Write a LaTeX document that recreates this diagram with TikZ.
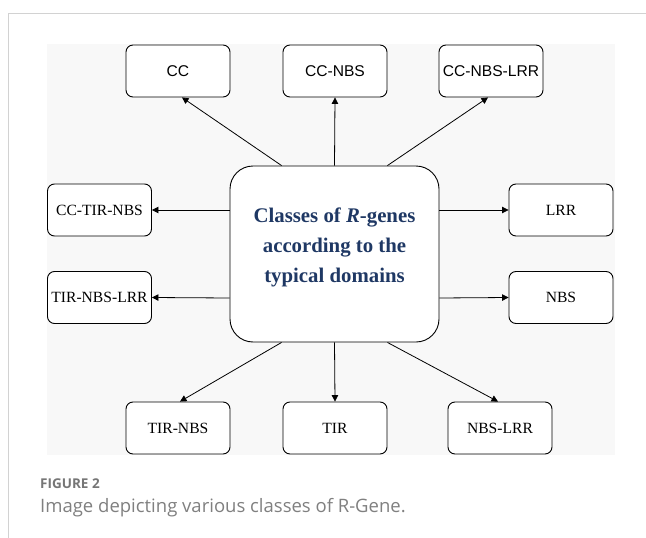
\documentclass[tikz,border=0pt]{standalone}
\usepackage{fontspec}
\setmainfont{Liberation Serif}
\newfontfamily\arialfont{Liberation Sans}
\newfontfamily\capfont{Open Sans}
\usetikzlibrary{arrows.meta,calc}
\definecolor{panelgray}{RGB}{248,248,248}
\definecolor{rulegray}{RGB}{210,210,210}
\definecolor{navy}{RGB}{31,56,100}
\definecolor{capgray}{RGB}{118,118,118}
\definecolor{capgraylight}{RGB}{128,128,128}
\tikzset{
  domainbox/.style={draw=black,line width=0.9pt,fill=white,rounded corners=7pt,
    minimum width=104pt,minimum height=52pt,inner sep=0pt,
    font=\fontsize{15.6}{18}\selectfont},
  sansbox/.style={domainbox,font=\arialfont\fontsize{15.6}{18}\selectfont},
  centerbox/.style={draw=black,line width=0.9pt,fill=white,rounded corners=23pt,
    minimum width=209pt,minimum height=176pt,inner sep=0pt},
  link/.style={draw=black,line width=0.8pt,-{Triangle[length=6.5pt,width=6.5pt]}}
}
\begin{document}
\begin{tikzpicture}[x=1pt,y=-1pt]
\useasboundingbox (0,0) rectangle (646,538);
\fill[white] (0,0) rectangle (646,538);
% frame lines
\draw[rulegray,line width=1pt] (8,13) -- (646,13);
\draw[rulegray,line width=1pt] (8,13) -- (8,538);
% panel
\fill[panelgray] (47,44) rectangle (615,455);
% center
\node[centerbox,label={[yshift=7pt,align=center,text=navy,
  font=\bfseries\fontsize{20.8}{30}\selectfont]center:Classes of \textit{R}-genes\\according to the\\typical domains}] (c) at (334.5,254) {};
% top row
\node[sansbox] (cc) at (178,71) {CC};
\node[sansbox] (ccnbs) at (335,71) {CC-NBS};
\node[sansbox] (ccnbslrr) at (491,71) {CC-NBS-LRR};
% left
\node[domainbox] (cctirnbs) at (99.5,210) {CC-TIR-NBS};
\node[domainbox] (tirnbslrr) at (99.5,297.5) {TIR-NBS-LRR};
% right
\node[domainbox] (lrr) at (561,210) {LRR};
\node[domainbox] (nbs) at (561,297.5) {NBS};
% bottom row
\node[domainbox] (tirnbs) at (178,428) {TIR-NBS};
\node[domainbox] (tir) at (335,428) {TIR};
\node[domainbox] (nbslrr) at (500,428) {NBS-LRR};
% connectors
\draw[link] ($(c.north west)+(52,0)$) -- ($(cc.south)+(4,0)$);
\draw[link] (c.north) -- (ccnbs.south);
\draw[link] ($(c.north east)+(-52,0)$) -- ($(ccnbslrr.south)+(-3,0)$);
\draw[link] ($(c.west)+(0,-44)$) -- (cctirnbs.east);
\draw[link] ($(c.west)+(0,44)$) -- (tirnbslrr.east);
\draw[link] ($(c.east)+(0,-44)$) -- (lrr.west);
\draw[link] ($(c.east)+(0,44)$) -- (nbs.west);
\draw[link] ($(c.south west)+(52,0)$) -- ($(tirnbs.north)+(2,0)$);
\draw[link] (c.south) -- (tir.north);
\draw[link] ($(c.south east)+(-52,0)$) -- ($(nbslrr.north)+(-2,0)$);
% caption
\node[anchor=base west,inner sep=0pt,text=capgray,font=\capfont\bfseries\fontsize{13.5}{16}\selectfont] (figlabel) at (40,488) {FIGURE 2};
\node[anchor=base west,inner sep=0pt,text=capgraylight,font=\capfont\fontsize{18.5}{22}\selectfont] (figcaption) at (40,512) {Image depicting various classes of R-Gene.};
\end{tikzpicture}
\end{document}
